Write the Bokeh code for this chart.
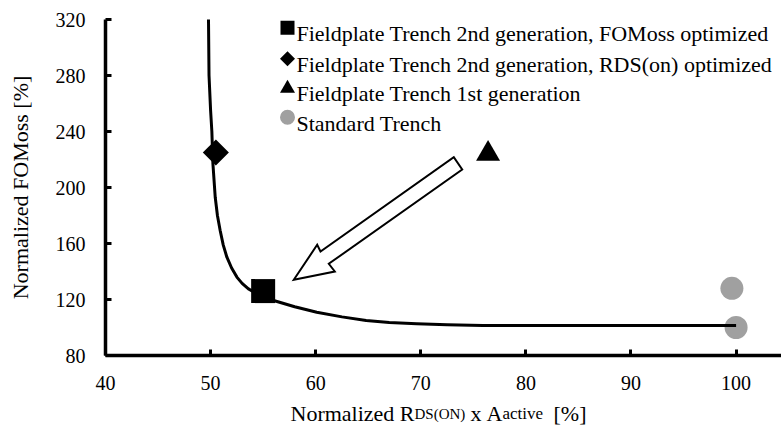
import math

from bokeh.plotting import figure
from bokeh.models import Range1d, FixedTicker, Label, LinearAxis
from bokeh.core.properties import value
from bokeh.embed import file_html
from bokeh.resources import INLINE

# ---- data -------------------------------------------------------------
x_ticks = [40, 50, 60, 70, 80, 90, 100]
y_ticks = [80, 120, 160, 200, 240, 280, 320]

# trade-off limit curve: normalized RDS(on) x A vs normalized FOMoss
curve_x = [49.8, 49.85, 50.0, 50.12, 50.22, 50.44, 50.65, 50.91, 51.2, 51.55,
           52.0, 52.5, 53.0, 53.6, 54.2, 54.9, 56.0, 58.0, 60.1, 62.5, 64.8,
           67.0, 69.6, 72.5, 75.9, 80.0, 85.4, 92.0, 100.0]
curve_y = [320, 280, 255, 240, 217, 193, 180, 169.3, 159, 150.2,
           142.5, 136, 131.5, 127.6, 125, 123, 119.3, 114.8, 110.9, 107.6, 105.0,
           103.6, 102.6, 101.9, 101.5, 101.4, 101.4, 101.4, 101.5]

fp2_fom_x = [55.0]
fp2_fom_y = [126.0]
fp2_rds_x = [50.5]
fp2_rds_y = [225.0]
fp1_x = [76.4]
fp1_y = [224.0]
std_x = [99.6, 100.0]
std_y = [128.0, 100.0]

legend_labels = [
    "Fieldplate Trench 2nd generation, FOMoss optimized",
    "Fieldplate Trench 2nd generation, RDS(on) optimized",
    "Fieldplate Trench 1st generation",
    "Standard Trench",
]

# ---- layout -----------------------------------------------------------
# the frame spans the whole canvas; axes sit at fixed data locations
W, H = 781, 425
AX_LEFT, AX_TOP, AX_BOTTOM = 105, 19, 355          # pixel edges of the plot area
XMIN, XMAX = 40.0, 104.32
YMIN, YMAX = 80.0, 320.0
SX = (W - AX_LEFT) / (XMAX - XMIN)                 # px per x unit
SY = (AX_BOTTOM - AX_TOP) / (YMAX - YMIN)          # px per y unit
SERIF = "'Liberation Serif', 'Times New Roman', serif"
GREY = "#a0a0a0"


def dx(px):
    """canvas pixel column -> data x"""
    return XMIN + (px - AX_LEFT) / SX


def dy(py):
    """canvas pixel row -> data y"""
    return YMAX - (py - AX_TOP) / SY


p = figure(width=W, height=H, output_backend="svg", toolbar_location=None,
           x_range=Range1d(dx(0), dx(W)), y_range=Range1d(dy(H), dy(0)),
           x_axis_location=None, y_axis_location=None,
           min_border=0)
p.outline_line_color = None
p.grid.visible = False
p.background_fill_color = "white"
p.border_fill_color = "white"

xaxis = LinearAxis(fixed_location=YMIN, bounds=(XMIN, XMAX))
yaxis = LinearAxis(fixed_location=XMIN, bounds=(YMIN, YMAX))
for ax, ticks in ((xaxis, x_ticks), (yaxis, y_ticks)):
    ax.ticker = FixedTicker(ticks=ticks)
    ax.axis_line_width = 3.5
    ax.axis_line_color = "black"
    ax.major_tick_line_width = 3
    ax.major_tick_line_color = "black"
    ax.major_tick_in = 6
    ax.major_tick_out = 0
    ax.minor_tick_in = 0
    ax.minor_tick_out = 0
    ax.major_label_text_font = SERIF
    ax.major_label_text_font_size = "20px"
    ax.major_label_text_color = "black"
    ax.major_label_standoff = 20
p.add_layout(xaxis, "below")
p.add_layout(yaxis, "left")

# y axis title
p.add_layout(Label(x=dx(20), y=dy(187), text="Normalized FOMoss [%]", angle=math.pi / 2,
                   text_font=SERIF, text_font_size="22px", text_color="black",
                   text_align="center", text_baseline="middle"))

# x axis title with small-size subscripts, built from pieces
base = dy(413)
for txt, px, size in (("Normalized R", 290, "22px"),
                      ("DS(ON)", 414, "15px"),
                      ("x", 470, "22px"),
                      ("A", 486, "22px"),
                      ("active", 502, "17px"),
                      ("[%]", 553, "22px")):
    p.add_layout(Label(x=dx(px), y=base, text=txt, text_font=SERIF,
                       text_font_size=size, text_color="black",
                       text_baseline="alphabetic", text_align="left"))

# improvement arrow (hollow block arrow)
arrow_px = [(293.3, 279.3), (316.7, 244.3), (320.0, 251.0), (453.3, 156.7),
            (461.7, 169.0), (328.3, 263.3), (334.3, 271.0)]
p.patch([dx(a) for a, _ in arrow_px], [dy(b) for _, b in arrow_px],
        fill_color="white", line_color="black", line_width=2, line_join="miter")

# data points and curve
p.scatter(std_x, std_y, marker="circle", size=23, fill_color=GREY, line_color=None)
p.line(curve_x, curve_y, line_color="black", line_width=3, line_join="round")
p.scatter(fp2_fom_x, fp2_fom_y, marker="square", size=24, fill_color="black", line_color=None)
p.scatter(fp2_rds_x, fp2_rds_y, marker="square", size=18.4, angle=math.pi / 4,
          fill_color="black", line_color=None)
p.scatter(fp1_x, fp1_y, marker="triangle", size=24, fill_color="black", line_color=None)

# legend, top right of the plot area
mk_x = dx(287)
p.scatter([mk_x], [dy(27.2)], marker="square", size=14, fill_color="black", line_color=None)
p.scatter([mk_x], [dy(58.3)], marker="square", size=10.6, angle=math.pi / 4,
          fill_color="black", line_color=None)
p.scatter([mk_x], [dy(88.0)], marker="triangle", size=15, fill_color="black", line_color=None)
p.scatter([mk_x], [dy(116.7)], marker="circle", size=15, fill_color=GREY, line_color=None)
p.text(x=[dx(296)] * 4, y=[dy(b) for b in (33.3, 64.3, 93.3, 123.3)], text=legend_labels,
       text_font=value(SERIF), text_font_size="22px", text_color="black",
       text_baseline="alphabetic", text_align="left")

open("out.html", "w").write(file_html(p, INLINE))
